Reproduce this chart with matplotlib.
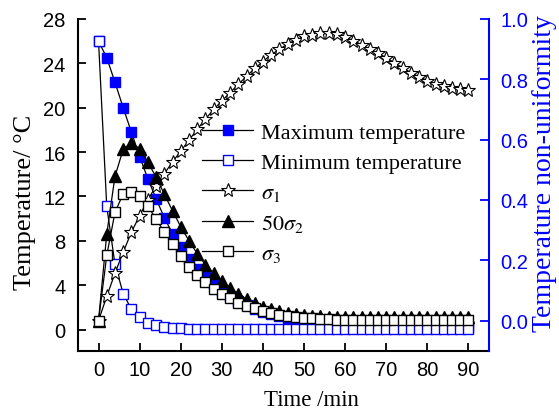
import numpy as np
import matplotlib
matplotlib.use("Agg")
import matplotlib.pyplot as plt


# ---------------------------------------
# Data
# ---------------------------------------

time = [0, 2, 4, 6, 8, 10, 12, 14, 16, 18, 20, 22, 24, 26, 28, 30,
        32, 34, 36, 38, 40, 42, 44, 46, 48, 50, 52, 54, 56, 58, 60,
        62, 64, 66, 68, 70, 72, 74, 76, 78, 80, 82, 84, 86, 88, 90]

t_max = [26.0, 24.5, 22.3, 20.0, 17.8, 15.6, 13.6, 11.8, 10.1, 8.65,
         7.45, 6.4, 5.5, 4.75, 4.1, 3.5, 3.0, 2.55, 2.2, 1.9,
         1.6, 1.4, 1.2, 1.05, 0.92, 0.82, 0.73, 0.66, 0.60, 0.55,
         0.50, 0.46, 0.43, 0.40, 0.37, 0.35, 0.33, 0.31, 0.29, 0.27,
         0.26, 0.25, 0.24, 0.23, 0.22, 0.21]

t_min = [26.0, 11.1, 5.9, 3.25, 1.83, 1.14, 0.62, 0.40, 0.26, 0.17,
         0.12, 0.09, 0.07, 0.06, 0.05, 0.05, 0.05, 0.05, 0.05, 0.05,
         0.05, 0.05, 0.05, 0.05, 0.05, 0.05, 0.05, 0.05, 0.05, 0.05,
         0.05, 0.05, 0.05, 0.05, 0.05, 0.05, 0.05, 0.05, 0.05, 0.05,
         0.05, 0.05, 0.05, 0.05, 0.05, 0.05]

sigma1 = [0.0, 0.08, 0.157, 0.227, 0.293, 0.348, 0.40, 0.447, 0.487, 0.526,
          0.562, 0.598, 0.634, 0.668, 0.70, 0.728, 0.756, 0.783, 0.81, 0.836,
          0.859, 0.881, 0.90, 0.917, 0.931, 0.942, 0.948, 0.952, 0.952, 0.949,
          0.941, 0.928, 0.915, 0.901, 0.887, 0.871, 0.855, 0.838, 0.822, 0.808,
          0.796, 0.785, 0.777, 0.771, 0.767, 0.763]

sigma2_50 = [0.0, 0.287, 0.478, 0.568, 0.590, 0.570, 0.525, 0.476, 0.419, 0.364,
             0.311, 0.265, 0.222, 0.185, 0.157, 0.130, 0.108, 0.088, 0.071, 0.058,
             0.046, 0.037, 0.030, 0.025, 0.021, 0.018, 0.016, 0.014, 0.013, 0.012,
             0.012, 0.012, 0.011, 0.011, 0.011, 0.011, 0.011, 0.011, 0.011, 0.011,
             0.011, 0.011, 0.011, 0.011, 0.011, 0.011]

sigma3 = [0.0, 0.216, 0.359, 0.420, 0.425, 0.414, 0.379, 0.337, 0.293, 0.254,
          0.213, 0.178, 0.150, 0.128, 0.106, 0.088, 0.074, 0.058, 0.047, 0.040,
          0.033, 0.025, 0.020, 0.016, 0.012, 0.009, 0.007, 0.005, 0.004, 0.003,
          0.003, 0.003, 0.003, 0.003, 0.003, 0.003, 0.003, 0.003, 0.003, 0.003,
          0.003, 0.003, 0.003, 0.003, 0.003, 0.003]

left_ticks = [0, 4, 8, 12, 16, 20, 24, 28]
right_ticks = [0.0, 0.2, 0.4, 0.6, 0.8, 1.0]
x_ticks = [0, 10, 20, 30, 40, 50, 60, 70, 80, 90]


# ---------------------------------------
# Style
# ---------------------------------------

plt.rcParams["font.family"] = ["Liberation Sans", "DejaVu Sans"]
plt.rcParams["mathtext.fontset"] = "stix"

serif = ["Liberation Serif", "DejaVu Serif"]
blue = "#0000ff"


fig = plt.figure(figsize=(5.59, 4.14), dpi=100)

ax = fig.add_axes([0.1395, 0.1505, 0.7353, 0.8012])
ax2 = ax.twinx()


# ---------------------------------------
# Temperatures (left axis)
# ---------------------------------------

h1, = ax.plot(
    time, t_max,
    color="black", lw=0.9,
    marker="s", ms=7,
    mfc=blue, mec=blue,
    label="Maximum temperature"
)

h2, = ax.plot(
    time, t_min,
    color="black", lw=0.9,
    marker="s", ms=6.5, mew=1.0,
    mfc="white", mec=blue,
    label="Minimum temperature"
)


# ---------------------------------------
# Non-uniformity (right axis)
# ---------------------------------------

h3, = ax2.plot(
    time, sigma1,
    color="black", lw=0.9,
    marker="*", ms=10.5, mew=0.8,
    mfc="white", mec="black",
    label=r"$\sigma_{\mathit{1}}$"
)

h4, = ax2.plot(
    time, sigma2_50,
    color="black", lw=0.9,
    marker="^", ms=8,
    mfc="black", mec="black",
    label=r"$\mathrm{50}\sigma_{2}$"
)

h5, = ax2.plot(
    time, sigma3,
    color="black", lw=0.9,
    marker="s", ms=6.5, mew=1.0,
    mfc="white", mec="black",
    label=r"$\sigma_{\mathit{3}}$"
)


# ---------------------------------------
# Axes
# ---------------------------------------

ax.set_xlim(-5, 95)
ax.set_ylim(-1.9, 28)
ax2.set_ylim(-0.1, 1.0)

ax.set_xticks(x_ticks)
ax.set_yticks(left_ticks)
ax2.set_yticks(right_ticks)
ax2.set_yticklabels(["%.1f" % v for v in right_ticks])

ax.tick_params(
    axis="both", direction="in",
    length=6, width=1.3,
    labelsize=14.5
)
ax.tick_params(axis="y", pad=9)
ax.tick_params(axis="x", pad=7)

ax2.tick_params(
    axis="y", direction="in",
    length=6.5, width=1.3,
    colors=blue, labelsize=14.5, pad=8
)

for a in (ax, ax2):
    a.spines["top"].set_visible(False)

ax.spines["left"].set_linewidth(1.5)
ax.spines["bottom"].set_linewidth(1.5)
ax.spines["right"].set_visible(False)
ax2.spines["left"].set_visible(False)
ax2.spines["bottom"].set_visible(False)
ax2.spines["right"].set_linewidth(1.5)
ax2.spines["right"].set_color(blue)

ax.set_xlabel("Time /min", family=serif, fontsize=16.5)
ax.xaxis.set_label_coords(0.567, -0.115)

ax.set_ylabel("Temperature/ \u00b0C", family=serif, fontsize=19)
ax.yaxis.set_label_coords(-0.102, 0.45)

ax2.set_ylabel(
    "Temperature non-uniformity",
    family=serif, fontsize=20, color=blue
)
ax2.yaxis.set_label_coords(1.105, 0.536)


# ---------------------------------------
# Legend
# ---------------------------------------

leg = ax2.legend(
    handles=[h1, h2, h3, h4, h5],
    loc="upper left",
    bbox_to_anchor=(0.302, 0.688),
    frameon=False,
    borderpad=0, borderaxespad=0,
    handlelength=2.3, handletextpad=0.33,
    labelspacing=0.42,
    prop={"family": serif, "size": 16}
)


fig.savefig("out.png", dpi=100)
